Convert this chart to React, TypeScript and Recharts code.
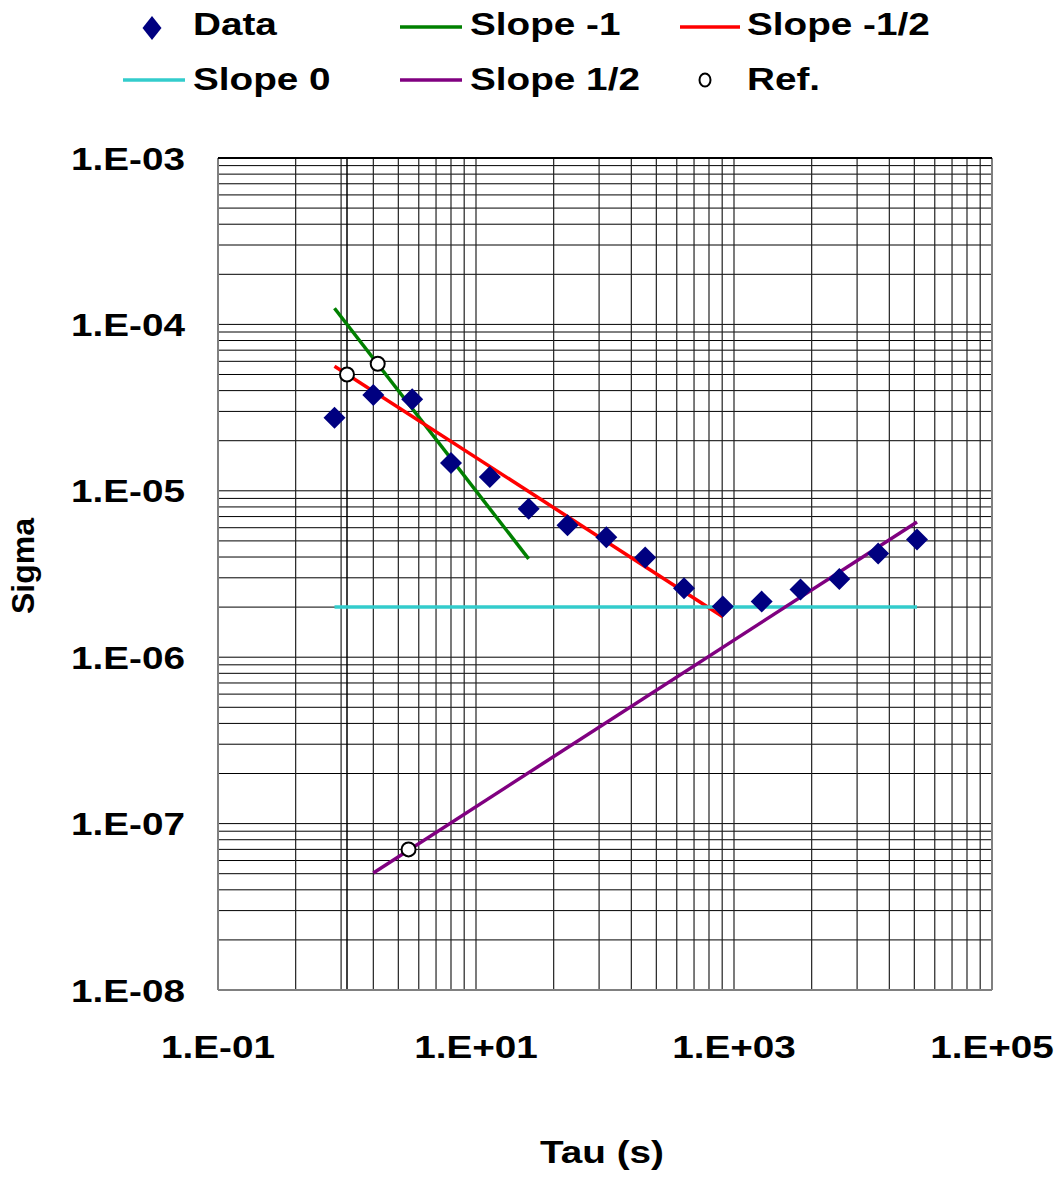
import React from "react";
import {
  ComposedChart,
  Line,
  Scatter,
  XAxis,
  YAxis,
  ReferenceLine,
} from "recharts";

// ---------- data ----------
const tau = [0.8, 1.6, 3.2, 6.4, 12.8, 25.6, 51.2, 102.4, 204.8, 409.6, 819.2, 1638.4, 3276.8, 6553.6, 13107.2, 26214.4];
const sigma = [2.75e-5, 3.77e-5, 3.55e-5, 1.47e-5, 1.21e-5, 7.8e-6, 6.2e-6, 5.25e-6, 3.98e-6, 2.6e-6, 2.02e-6, 2.16e-6, 2.55e-6, 2.95e-6, 4.2e-6, 5.1e-6];

const slopeM1Tau = [0.8, 25.6];
const slopeM1Sigma = [1.25e-4, 3.9e-6];
const slopeMHalfTau = [0.8, 819.2];
const slopeMHalfSigma = [5.6e-5, 1.75e-6];
const slope0Tau = [0.8, 26214.4];
const slope0Sigma = [2.0e-6, 2.0e-6];
const slopeHalfTau = [1.6, 26214.4];
const slopeHalfSigma = [5.05e-8, 6.5e-6];
const refTau = [1.0, 1.73, 3.0];
const refSigma = [5.0e-5, 5.8e-5, 7.0e-8];

const xTicks = [0.1, 10, 1000, 100000];
const xTickLabels = ["1.E-01", "1.E+01", "1.E+03", "1.E+05"];
const yTicks = [1e-8, 1e-7, 1e-6, 1e-5, 1e-4, 1e-3];
const yTickLabels = ["1.E-08", "1.E-07", "1.E-06", "1.E-05", "1.E-04", "1.E-03"];

const xGrid = [0.4, 0.9, 1.6, 2.5, 3.6, 4.9, 6.4, 8.1, 10, 40, 90, 160, 250, 360, 490, 640, 810, 1000, 4000, 9000, 16000, 25000, 36000, 49000, 64000, 81000];
const yGrid = [
  2e-8, 3e-8, 4e-8, 5e-8, 6e-8, 7e-8, 8e-8, 9e-8, 1e-7,
  2e-7, 3e-7, 4e-7, 5e-7, 6e-7, 7e-7, 8e-7, 9e-7, 1e-6,
  2e-6, 3e-6, 4e-6, 5e-6, 6e-6, 7e-6, 8e-6, 9e-6, 1e-5,
  2e-5, 3e-5, 4e-5, 5e-5, 6e-5, 7e-5, 8e-5, 9e-5, 1e-4,
  2e-4, 3e-4, 4e-4, 5e-4, 6e-4, 7e-4, 8e-4, 9e-4,
];

const zip = (xs: number[], ys: number[]) => xs.map((x, i) => ({ x, y: ys[i] }));

const dataPts = zip(tau, sigma);
const m1Pts = zip(slopeM1Tau, slopeM1Sigma);
const mHalfPts = zip(slopeMHalfTau, slopeMHalfSigma);
const s0Pts = zip(slope0Tau, slope0Sigma);
const halfPts = zip(slopeHalfTau, slopeHalfSigma);
const refPts = zip(refTau, refSigma);

// ---------- style ----------
const FONT = '"Liberation Sans", Arial, Helvetica, sans-serif';
const FS = 32;
const SX = 1.21;
const NAVY = "#000080";
const GREEN = "#008000";
const RED = "#FF0000";
const CYAN = "#33CCCC";
const PURPLE = "#800080";

const W = 1046;
const H = 1164;

const labelFor = (ticks: number[], labels: string[], v: number) => {
  let best = 0;
  for (let i = 0; i < ticks.length; i++) {
    if (Math.abs(Math.log10(ticks[i]) - Math.log10(v)) < Math.abs(Math.log10(ticks[best]) - Math.log10(v))) best = i;
  }
  return labels[best];
};

const XTick = (props: any) => {
  const { x, y, payload } = props;
  return (
    <g transform={`translate(${x},${y + 68}) scale(${SX},1)`}>
      <text x={0} y={0} textAnchor="middle" fontFamily={FONT} fontWeight="bold" fontSize={FS} fill="#000">
        {labelFor(xTicks, xTickLabels, payload.value)}
      </text>
    </g>
  );
};

const YTick = (props: any) => {
  const { x, y, payload } = props;
  return (
    <g transform={`translate(${x - 33},${y + 11.5}) scale(${SX},1)`}>
      <text x={0} y={0} textAnchor="end" fontFamily={FONT} fontWeight="bold" fontSize={FS} fill="#000">
        {labelFor(yTicks, yTickLabels, payload.value)}
      </text>
    </g>
  );
};

const Diamond = (props: any) => {
  const { cx, cy } = props;
  if (cx == null || cy == null) return null;
  const h = 11;
  return <polygon points={`${cx},${cy - h} ${cx + h},${cy} ${cx},${cy + h} ${cx - h},${cy}`} fill={NAVY} />;
};

const RefDot = (props: any) => {
  const { cx, cy } = props;
  if (cx == null || cy == null) return null;
  return <circle cx={cx} cy={cy} r={7} fill="#fff" stroke="#000" strokeWidth={2} />;
};

const LegendText = ({ x, y, children }: any) => (
  <g transform={`translate(${x},${y}) scale(${SX},1)`}>
    <text x={0} y={0} fontFamily={FONT} fontWeight="bold" fontSize={FS} fill="#000">
      {children}
    </text>
  </g>
);

// overlay covers the whole page (offset by the body margin) so nothing sits at its edge
const Overlay = () => (
  <svg
    width={W + 16}
    height={H + 16}
    style={{ position: "absolute", left: -8, top: -8, pointerEvents: "none", overflow: "visible" }}
  >
    <g transform="translate(8,8)">
      {/* legend row 1 */}
      <polygon points="144,8 153.5,20 144,32 134.5,20" fill={NAVY} />
      <LegendText x={185} y={27}>Data</LegendText>
      <line x1={392} y1={19} x2={454} y2={19} stroke={GREEN} strokeWidth={3.5} />
      <LegendText x={462} y={27}>Slope -1</LegendText>
      <line x1={672} y1={19} x2={732} y2={19} stroke={RED} strokeWidth={3.5} />
      <LegendText x={739} y={27}>Slope -1/2</LegendText>
      {/* legend row 2 */}
      <line x1={115} y1={72} x2={177} y2={72} stroke={CYAN} strokeWidth={3.5} />
      <LegendText x={185} y={82}>Slope 0</LegendText>
      <line x1={392} y1={72} x2={454} y2={72} stroke={PURPLE} strokeWidth={3.5} />
      <LegendText x={462} y={82}>Slope 1/2</LegendText>
      <ellipse cx={697} cy={72} rx={5.5} ry={6.5} fill="#fff" stroke="#000" strokeWidth={2} />
      <LegendText x={739} y={82}>Ref.</LegendText>
      {/* axis titles */}
      <g transform={`translate(594,1155) scale(${SX},1)`}>
        <text x={0} y={0} textAnchor="middle" fontFamily={FONT} fontWeight="bold" fontSize={FS} fill="#000">
          Tau (s)
        </text>
      </g>
      <g transform={`translate(26,558) rotate(-90)`}>
        <text x={0} y={0} textAnchor="middle" fontFamily={FONT} fontWeight="bold" fontSize={FS} fill="#000">
          Sigma
        </text>
      </g>
    </g>
  </svg>
);

export default function App() {
  return (
    <div style={{ position: "relative", width: W, height: H }}>
      <ComposedChart width={W} height={H} margin={{ top: 150, right: 62, bottom: 122, left: 0 }}>
        <XAxis
          dataKey="x"
          type="number"
          scale="log"
          domain={[0.1, 100000]}
          allowDataOverflow
          ticks={xTicks}
          tick={<XTick />}
          tickSize={0}
          tickMargin={0}
          axisLine={false}
          tickLine={false}
          height={60}
          interval={0}
        />
        <YAxis
          dataKey="y"
          type="number"
          scale="log"
          domain={[1e-8, 1e-3]}
          allowDataOverflow
          ticks={yTicks}
          tick={<YTick />}
          tickSize={0}
          tickMargin={0}
          axisLine={false}
          tickLine={false}
          width={210}
          interval={0}
        />
        {yGrid.map((v) => (
          <ReferenceLine key={`hy${v}`} y={v} stroke="#000" strokeWidth={1} />
        ))}
        {xGrid.map((v) => (
          <ReferenceLine key={`vx${v}`} x={v} stroke="#222" strokeWidth={1.2} />
        ))}
        <ReferenceLine x={1} stroke="#000" strokeWidth={1.5} />
        <ReferenceLine x={0.1} stroke="#808080" strokeWidth={2} />
        <ReferenceLine x={100000} stroke="#808080" strokeWidth={2} />
        <ReferenceLine y={1e-8} stroke="#808080" strokeWidth={2} />
        <ReferenceLine y={1e-3} stroke="#000" strokeWidth={2} />
        <Line data={m1Pts} dataKey="y" type="linear" stroke={GREEN} strokeWidth={3.5} dot={false} isAnimationActive={false} />
        <Line data={mHalfPts} dataKey="y" type="linear" stroke={RED} strokeWidth={3.5} dot={false} isAnimationActive={false} />
        <Line data={s0Pts} dataKey="y" type="linear" stroke={CYAN} strokeWidth={3.5} dot={false} isAnimationActive={false} />
        <Line data={halfPts} dataKey="y" type="linear" stroke={PURPLE} strokeWidth={3.5} dot={false} isAnimationActive={false} />
        <Scatter data={dataPts} shape={<Diamond />} isAnimationActive={false} />
        <Scatter data={refPts} shape={<RefDot />} isAnimationActive={false} />
      </ComposedChart>
      <Overlay />
    </div>
  );
}
